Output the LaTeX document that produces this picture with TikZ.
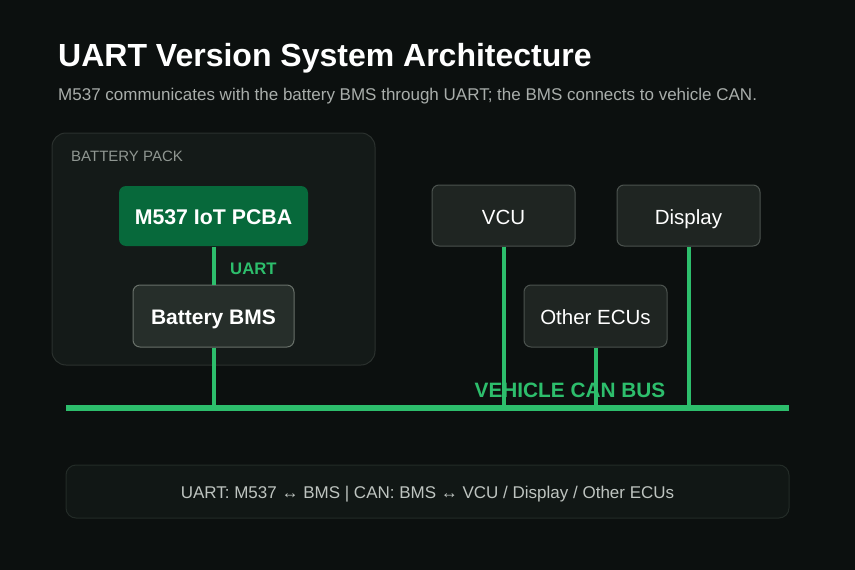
\documentclass[tikz,border=0pt]{standalone}
\usepackage{fontspec}
\setmainfont{Liberation Sans}
\usetikzlibrary{calc}

\definecolor{bgcol}{HTML}{0C100F}
\definecolor{packfill}{HTML}{141A18}
\definecolor{packline}{HTML}{2B312E}
\definecolor{boxfill}{HTML}{1F2522}
\definecolor{boxline}{HTML}{4B524E}
\definecolor{bmsfill}{HTML}{262E2A}
\definecolor{bmsline}{HTML}{687069}
\definecolor{pcbafill}{HTML}{07693B}
\definecolor{busgreen}{HTML}{2DBE6C}
\definecolor{notefill}{HTML}{111715}
\definecolor{noteline}{HTML}{232B27}
\definecolor{subgrey}{HTML}{A9AEAB}
\definecolor{packgrey}{HTML}{8F9691}
\definecolor{notegrey}{HTML}{BEC4C0}

\tikzset{
  ecubox/.style={draw=boxline, line width=1pt, fill=boxfill, rounded corners=7pt,
    text=white, font=\fontsize{20.5}{24}\selectfont, inner sep=0pt,
    text height=20pt, text depth=3pt},
  tap/.style={draw=busgreen, line width=4pt},
}

\begin{document}
\begin{tikzpicture}[x=1pt,y=-1pt]
%set diagram to 855 x 570
\fill[bgcol] (0,0) rectangle (855,570);
\useasboundingbox (0,0) rectangle (855,570);

% Text Node
\node (title) [anchor=base west, text=white, font=\fontsize{32}{38}\selectfont\bfseries, inner sep=0pt] at (58,66) {UART Version System Architecture};
% Text Node
\node (subtitle) [anchor=base west, text=subgrey, font=\fontsize{17}{20}\selectfont, inner sep=0pt] at (58,100) {M537 communicates with the battery BMS through UART; the BMS connects to vehicle CAN.};

%Shape: Rectangle
\node (pack) [draw=packline, line width=1pt, fill=packfill, rounded corners=14pt, minimum width=323pt, minimum height=232pt] at (213.5,249) {};
% Text Node
\node (packlabel) [anchor=base west, text=packgrey, font=\fontsize{15}{18}\selectfont, inner sep=0pt] at (71,161) {BATTERY PACK};

%Shape: Rectangle
\node (pcba) [ecubox, draw=none, fill=pcbafill, font=\fontsize{21.3}{25}\selectfont\bfseries, minimum width=189pt, minimum height=60pt] at (213.5,216) {M537 IoT PCBA};
%Shape: Rectangle
\node (bms) [ecubox, draw=bmsline, fill=bmsfill, font=\fontsize{21}{25}\selectfont\bfseries, minimum width=161pt, minimum height=62pt] at (213.5,316) {Battery BMS};

%Shape: Rectangle
\node (vcu) [ecubox, minimum width=143pt, minimum height=61pt] at (503.5,215.5) {VCU};
\node (disp) [ecubox, minimum width=143pt, minimum height=61pt] at (688.5,215.5) {Display};
\node (ecus) [ecubox, minimum width=143pt, minimum height=62pt] at (595.5,316) {Other ECUs};

%Straight Lines
\coordinate (busL) at (66,408);
\coordinate (busR) at (789,408);
\draw [tap] (pcba.south) -- (bms.north);
\draw [tap] (bms.south) -- (bms.south |- busL);
\foreach \n in {vcu,disp,ecus}
  \draw [tap] (\n.south) -- (\n.south |- busL);
\draw [draw=busgreen, line width=6pt] (busL) -- (busR);

% Text Node
\node (uartlabel) [anchor=base west, text=busgreen, font=\fontsize{16.7}{20}\selectfont\bfseries, inner sep=0pt] at (230,274) {UART};
% Text Node
\node (buslabel) [anchor=base, text=busgreen, font=\fontsize{20.8}{25}\selectfont\bfseries, inner sep=0pt] at (570,397) {VEHICLE CAN BUS};

%Shape: Rectangle
\node (note) [draw=noteline, line width=1pt, fill=notefill, rounded corners=10pt, minimum width=723pt, minimum height=53pt, text=notegrey, font=\fontsize{17}{20}\selectfont, text height=17pt, text depth=2.5pt] at (427.5,491.5) {UART: M537 ↔ BMS | CAN: BMS ↔ VCU / Display / Other ECUs};

\end{tikzpicture}
\end{document}
